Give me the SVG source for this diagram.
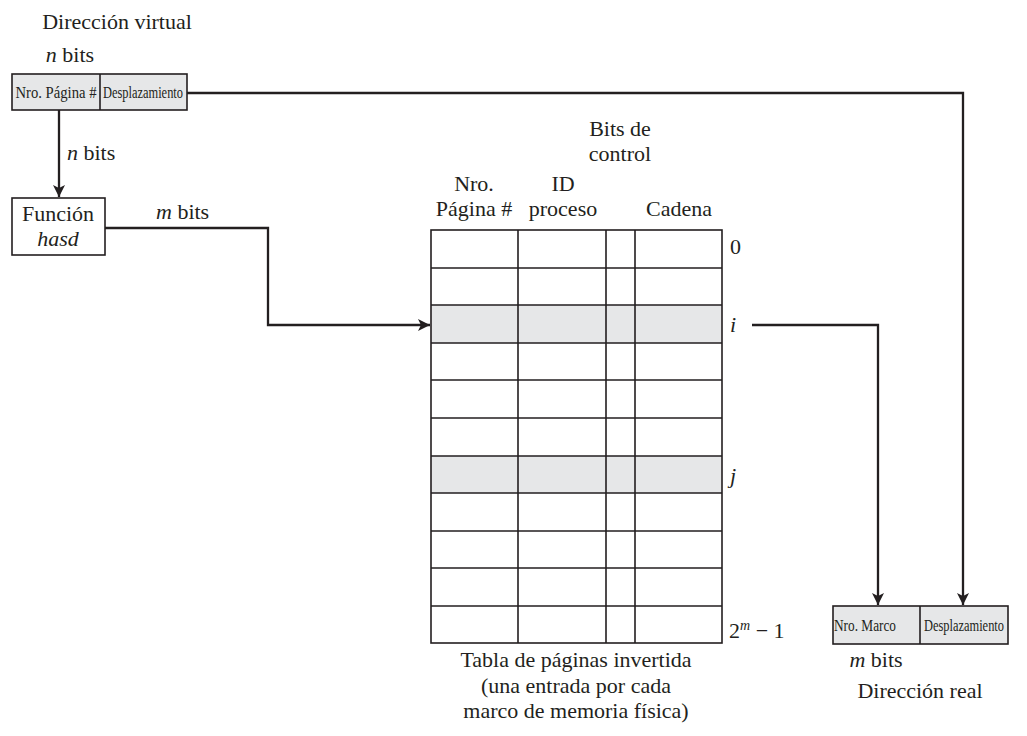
<svg xmlns="http://www.w3.org/2000/svg" width="1027" height="736" viewBox="0 0 1027 736">
<defs>
<marker id="ah" viewBox="0 0 12 12" refX="12" refY="6" markerWidth="12" markerHeight="12" markerUnits="userSpaceOnUse" orient="auto">
<path d="M0,0 L12,6 L0,12 L3,6 Z" fill="#231f20"/>
</marker>
<style>
text{font-family:"Liberation Serif","Times New Roman",serif;fill:#231f20;font-size:22px}
.c{text-anchor:middle}
.i{font-style:italic}
.sm{font-size:16px}
.box{fill:#e6e7e8;stroke:#231f20;stroke-width:1.6}
.wb{fill:#fff;stroke:#231f20;stroke-width:1.6}
.ln{fill:none;stroke:#231f20;stroke-width:2.3}
.gl{stroke:#231f20;stroke-width:1.6;fill:none}
.sh{fill:#e6e7e8}
</style>
</defs>
<rect width="1027" height="736" fill="#fff"/>

<g id="virtual">
<text x="117" y="29" class="c">Dirección virtual</text>
<text x="70" y="62" class="c"><tspan class="i">n</tspan> bits</text>
<rect x="12" y="74" width="175" height="36" class="box"/>
<line x1="100" y1="74" x2="100" y2="110" class="gl"/>
<text x="56" y="98" class="c sm" textLength="81" lengthAdjust="spacingAndGlyphs">Nro. Página #</text>
<text x="143" y="98" class="c sm" textLength="80" lengthAdjust="spacingAndGlyphs">Desplazamiento</text>
</g>

<g id="hash">
<rect x="12" y="198" width="93" height="57" class="wb"/>
<text x="58" y="221" class="c">Función</text>
<text x="58" y="246" class="c i">hasd</text>
</g>

<g id="table">
<rect x="431" y="305" width="291" height="38" class="sh"/>
<rect x="431" y="456" width="291" height="37" class="sh"/>
<rect x="431" y="230" width="291" height="413" class="gl"/>
<path d="M518,230V643M606,230V643M635,230V643" class="gl"/>
<path d="M431,268H722M431,305H722M431,343H722M431,380H722M431,418H722M431,456H722M431,493H722M431,531H722M431,568H722M431,606H722" class="gl"/>
<text x="620" y="136" class="c">Bits de</text>
<text x="620" y="161" class="c">control</text>
<text x="474" y="191" class="c">Nro.</text>
<text x="474" y="216" class="c">Página #</text>
<text x="563" y="191" class="c">ID</text>
<text x="563" y="216" class="c">proceso</text>
<text x="679" y="216" class="c">Cadena</text>
<text x="730" y="254">0</text>
<text x="730" y="332" class="i">i</text>
<text x="730" y="483" class="i">j</text>
<text x="729" y="638">2<tspan class="i" font-size="14" dy="-8">m</tspan><tspan dy="8"> − 1</tspan></text>
<text x="576" y="667" class="c">Tabla de páginas invertida</text>
<text x="576" y="693" class="c">(una entrada por cada</text>
<text x="576" y="718" class="c">marco de memoria física)</text>
</g>

<g id="real">
<rect x="833" y="606" width="175" height="38" class="box"/>
<line x1="920" y1="606" x2="920" y2="644" class="gl"/>
<text x="865" y="631" class="c sm" textLength="62" lengthAdjust="spacingAndGlyphs">Nro.   Marco</text>
<text x="964" y="631" class="c sm" textLength="80" lengthAdjust="spacingAndGlyphs">Desplazamiento</text>
<text x="876" y="667" class="c"><tspan class="i">m</tspan> bits</text>
<text x="920" y="698" class="c">Dirección real</text>
</g>

<g id="connectors">
<path d="M59,110V197" class="ln" marker-end="url(#ah)"/>
<text x="67" y="160"><tspan class="i">n</tspan> bits</text>
<path d="M105,228H268V325H430" class="ln" marker-end="url(#ah)"/>
<text x="156" y="219"><tspan class="i">m</tspan> bits</text>
<path d="M752,325H878V605" class="ln" marker-end="url(#ah)"/>
<path d="M187,93H963V605" class="ln" marker-end="url(#ah)"/>
</g>
</svg>
